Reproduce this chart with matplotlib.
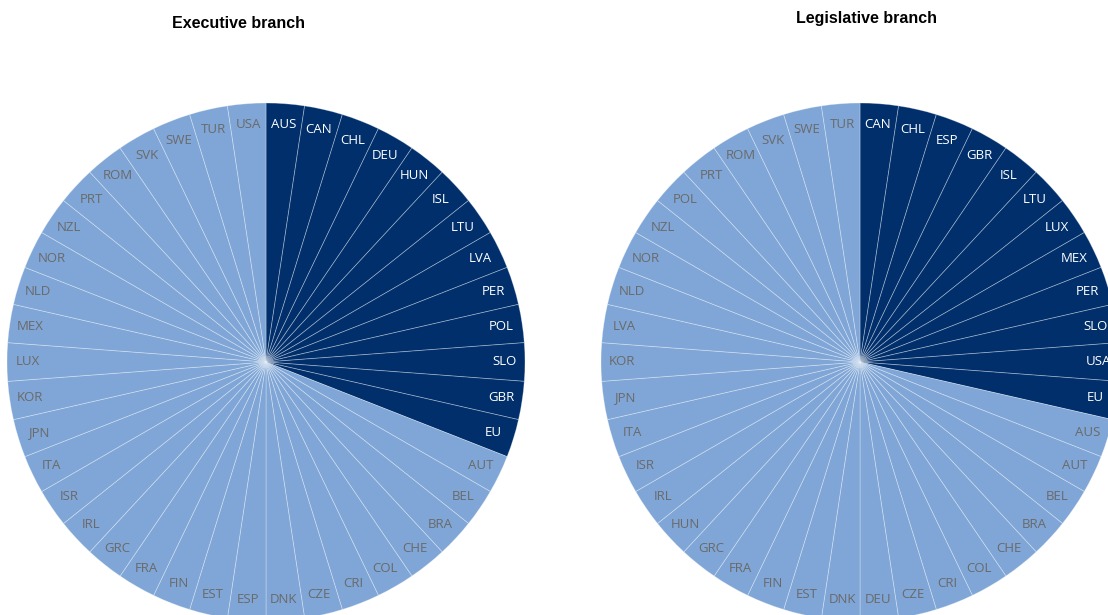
import matplotlib.pyplot as plt

# Executive branch: countries in clockwise order from 12 o'clock
exec_countries = ["AUS", "CAN", "CHL", "DEU", "HUN", "ISL", "LTU", "LVA", "PER", "POL",
                  "SLO", "GBR", "EU",
                  "AUT", "BEL", "BRA", "CHE", "COL", "CRI", "CZE", "DNK", "ESP", "EST",
                  "FIN", "FRA", "GRC", "IRL", "ISR", "ITA", "JPN", "KOR", "LUX", "MEX",
                  "NLD", "NOR", "NZL", "PRT", "ROM", "SVK", "SWE", "TUR", "USA"]
exec_flag = [1] * 13 + [0] * 29

# Legislative branch
leg_countries = ["CAN", "CHL", "ESP", "GBR", "ISL", "LTU", "LUX", "MEX", "PER", "SLO",
                 "USA", "EU",
                 "AUS", "AUT", "BEL", "BRA", "CHE", "COL", "CRI", "CZE", "DEU", "DNK",
                 "EST", "FIN", "FRA", "GRC", "HUN", "IRL", "ISR", "ITA", "JPN", "KOR",
                 "LVA", "NLD", "NOR", "NZL", "POL", "PRT", "ROM", "SVK", "SWE", "TUR"]
leg_flag = [1] * 12 + [0] * 30

DARK = "#002F6C"
LIGHT = "#7FA6D6"

W, H = 1108, 615
fig = plt.figure(figsize=(W / 100, H / 100), dpi=100)


def draw_pie(cx, cy, r, countries, flags, title, tx, ty):
    ax = fig.add_axes([(cx - r) / W, (H - cy - r) / H, 2 * r / W, 2 * r / H])
    colors = [DARK if f else LIGHT for f in flags]
    wedges, texts = ax.pie(
        [1] * len(countries),
        labels=countries,
        colors=colors,
        startangle=90,
        counterclock=False,
        labeldistance=0.92,
        radius=1,
        wedgeprops=dict(edgecolor=(1, 1, 1, 0.35), linewidth=0.6),
        textprops=dict(fontsize=9.5, family="Open Sans"),
    )
    for t, f in zip(texts, flags):
        t.set_color("white" if f else "#6A6A6A")
        t.set_ha("center")
        t.set_va("center")
    ax.set_xlim(-1, 1)
    ax.set_ylim(-1, 1)
    ax.set_aspect("equal")
    ax.axis("off")
    fig.text(tx / W, 1 - ty / H, title, ha="center", va="center",
             fontsize=11.5, fontweight="bold", family="Liberation Sans")


draw_pie(266, 362, 259, exec_countries, exec_flag, "Executive branch", 238, 24)
draw_pie(860, 362, 259, leg_countries, leg_flag, "Legislative branch", 867, 18)

fig.savefig("out.png", dpi=100)
